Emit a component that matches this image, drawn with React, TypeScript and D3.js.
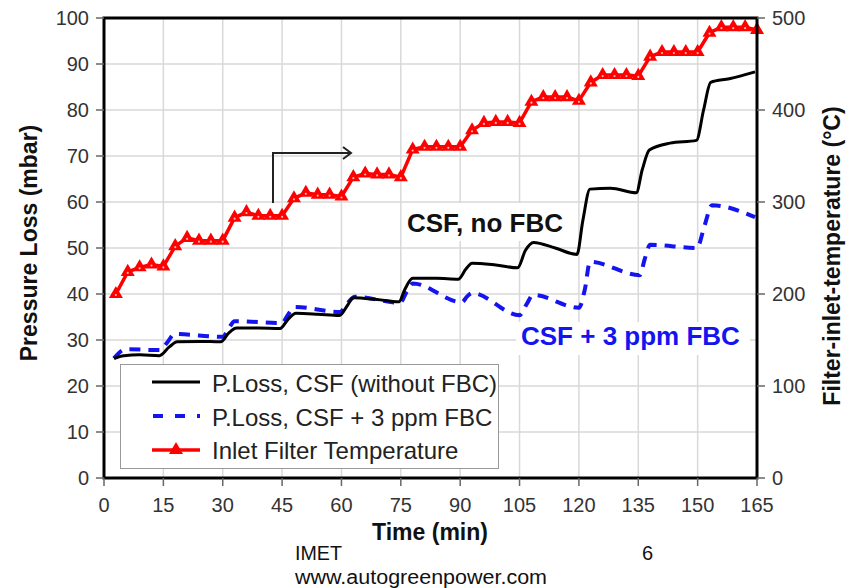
import React from 'react'
import * as d3 from 'd3'

// tick labels
const timeTicks = [0, 15, 30, 45, 60, 75, 90, 105, 120, 135, 150, 165]
const lossTicks = [0, 10, 20, 30, 40, 50, 60, 70, 80, 90, 100]
const tempTicks = [0, 100, 200, 300, 400, 500]

// inlet filter temperature (°C), one reading every 3 min
const tempTime = [
  3, 6, 9, 12, 15, 18, 21, 24, 27, 30, 33, 36, 39, 42, 45, 48, 51, 54, 57, 60,
  63, 66, 69, 72, 75, 78, 81, 84, 87, 90, 93, 96, 99, 102, 105, 108, 111, 114,
  117, 120, 123, 126, 129, 132, 135, 138, 141, 144, 147, 150, 153, 156, 159, 162, 165
]
const inletTemp = [
  200, 224, 229, 232, 230, 252, 261, 258, 258, 258, 283, 289, 285, 285, 285, 304,
  310, 308, 308, 306, 327, 331, 330, 330, 327, 357, 360, 360, 360, 360, 378, 386,
  387, 387, 386, 409, 414, 414, 414, 410, 430, 438, 438, 438, 437, 458, 463, 463,
  463, 463, 484, 490, 490, 490, 487
]

// pressure loss, CSF without FBC (mbar)
const csfTime = [
  2.5, 5, 9, 14, 16.5, 18.5, 24, 29.5, 31.5, 33.5, 39, 44.5, 46.5, 48.5, 54, 59.5,
  61.5, 63, 69, 74.5, 76, 78, 84, 89.5, 91.5, 93, 99, 104.5, 106.5, 108.5, 114,
  119.5, 121, 122.8, 128, 134.5, 136, 137.8, 143, 149.7, 151.5, 153.3, 158, 164.5
]
const csfLoss = [
  26.0, 26.6, 26.8, 26.6, 28.5, 29.6, 29.7, 29.6, 31.5, 32.6, 32.6, 32.5, 34.5, 35.8,
  35.6, 35.3, 37.5, 39.2, 38.8, 38.3, 41, 43.4, 43.4, 43.2, 45.5, 46.7, 46.3, 45.7,
  49.5, 51.2, 50.0, 48.6, 56, 62.8, 63.0, 62.0, 67, 71.3, 72.8, 73.4, 80, 86.0, 86.8, 88.3
]

// pressure loss, CSF + 3 ppm FBC (mbar)
const fbcTime = [
  2.5, 5.5, 14, 16, 17.8, 30, 31.5, 33, 45, 46.5, 48.3, 59.6, 61.5, 63.4, 74.8, 76.5,
  78, 90.4, 91.8, 93, 105, 106.8, 108.4, 120, 121.5, 122.8, 135.4, 136.6, 138, 149.8,
  151.8, 153.6, 164.5
]
const fbcLoss = [
  26.0, 28.0, 27.8, 29.5, 31.3, 30.7, 32.5, 34.1, 33.7, 35.5, 37.2, 36.1, 38, 39.4,
  38.1, 40.5, 42.3, 38.2, 39.5, 40.2, 35.4, 37.8, 39.8, 37.0, 41, 47.0, 44.1, 47.5,
  50.7, 50.0, 55, 59.3, 56.7
]

const legendItems = [
  'P.Loss, CSF (without FBC)',
  'P.Loss, CSF + 3 ppm FBC',
  'Inlet Filter Temperature'
]

const font = 'Liberation Sans, Arial, sans-serif'
const blue = '#1414f0'

const App = () => {
  const x = d3.scaleLinear().domain([0, 165]).range([104, 757])
  const yL = d3.scaleLinear().domain([0, 100]).range([478, 18])
  const yR = d3.scaleLinear().domain([0, 500]).range([478, 18])

  const smooth = d3
    .line<[number, number]>()
    .x(d => x(d[0]))
    .y(d => yL(d[1]))
    .curve(d3.curveMonotoneX)

  const tempLine = d3
    .line<[number, number]>()
    .x(d => x(d[0]))
    .y(d => yR(d[1]))

  const csf = csfTime.map((t, i) => [t, csfLoss[i]] as [number, number])
  const fbc = fbcTime.map((t, i) => [t, fbcLoss[i]] as [number, number])
  const temp = tempTime.map((t, i) => [t, inletTemp[i]] as [number, number])

  const tri = d3.symbol().type(d3.symbolTriangle).size(85)()

  const [x0, x1] = x.range()
  const [yb, yt] = yL.range()

  return (
    <svg
      width={854}
      height={588}
      style={{ position: 'absolute', left: 0, top: 0, background: '#fff' }}
    >
      {/* grid */}
      <g stroke='#d9d9d9' strokeWidth={1.5}>
        {timeTicks.slice(1, -1).map(t => (
          <line key={'gx' + t} x1={x(t)} x2={x(t)} y1={yt} y2={yb} />
        ))}
        {lossTicks.slice(1, -1).map(v => (
          <line key={'gy' + v} x1={x0} x2={x1} y1={yL(v)} y2={yL(v)} />
        ))}
      </g>

      {/* annotation backgrounds */}
      <rect x={402} y={203} width={168} height={38} fill='#fff' />
      <rect x={516} y={322} width={234} height={33} fill='#fff' />

      {/* series */}
      <path d={smooth(fbc) || ''} fill='none' stroke={blue} strokeWidth={4} strokeDasharray='11 8' />
      <path d={smooth(csf) || ''} fill='none' stroke='#000' strokeWidth={3} />
      <path d={tempLine(temp) || ''} fill='none' stroke='#ff0000' strokeWidth={3.5} />
      {temp.map(d => (
        <g key={'m' + d[0]} transform={`translate(${x(d[0])},${yR(d[1])})`}>
          <path d={tri || ''} fill='#ff0000' />
          <circle r={1.1} cy={1} fill='#ffb0b0' />
        </g>
      ))}

      {/* annotations */}
      <text x={407} y={232} fontFamily={font} fontWeight='bold' fontSize={26} fill='#111'>
        CSF, no FBC
      </text>
      <text x={521} y={345} fontFamily={font} fontWeight='bold' fontSize={26} fill={blue}>
        CSF + 3 ppm FBC
      </text>
      <g fill='none' stroke='#222' strokeWidth={2}>
        <path d='M273,203 V153 H351' />
        <path d='M343,147 L351,153 L343,159' />
      </g>

      {/* frame */}
      <rect x={x0} y={yt} width={x1 - x0} height={yb - yt} fill='none' stroke='#000' strokeWidth={3} />

      {/* axes ticks */}
      <g stroke='#666' strokeWidth={1.5}>
        {lossTicks.map(v => (
          <line key={'tl' + v} x1={x0 - 8} x2={x0} y1={yL(v)} y2={yL(v)} />
        ))}
        {tempTicks.map(v => (
          <line key={'tr' + v} x1={x1} x2={x1 + 8} y1={yR(v)} y2={yR(v)} />
        ))}
        {timeTicks.map(t => (
          <line key={'tb' + t} x1={x(t)} x2={x(t)} y1={yb} y2={yb + 8} />
        ))}
      </g>
      <g fontFamily={font} fontSize={20} fill='#333'>
        {lossTicks.map(v => (
          <text key={'ll' + v} x={x0 - 15} y={yL(v) + 7} textAnchor='end'>
            {v}
          </text>
        ))}
        {tempTicks.map(v => (
          <text key={'lr' + v} x={x1 + 15} y={yR(v) + 7}>
            {v}
          </text>
        ))}
        {timeTicks.map(t => (
          <text key={'lb' + t} x={x(t)} y={512} textAnchor='middle'>
            {t}
          </text>
        ))}
      </g>

      {/* axis titles */}
      <g fontFamily={font} fontWeight='bold' fontSize={23} fill='#111' textAnchor='middle'>
        <text transform='translate(37,243) rotate(-90)'>Pressure Loss (mbar)</text>
        <text transform='translate(840,256) rotate(-90)'>Filter-inlet-temperature (°C)</text>
        <text x={430} y={540}>Time (min)</text>
      </g>

      {/* legend */}
      <g>
        <rect x={120.5} y={364.5} width={378} height={104} fill='#fff' stroke='#999' strokeWidth={1} />
        <line x1={152} x2={200} y1={382} y2={382} stroke='#000' strokeWidth={3} />
        <line x1={153} x2={200} y1={416} y2={416} stroke={blue} strokeWidth={4} strokeDasharray='10 12' />
        <line x1={152} x2={200} y1={450} y2={450} stroke='#ff0000' strokeWidth={3.5} />
        <path d={tri || ''} fill='#ff0000' transform='translate(176,450)' />
        <g fontFamily={font} fontSize={24} fill='#222'>
          {legendItems.map((s, i) => (
            <text key={s} x={212} y={392 + i * 33.5}>
              {s}
            </text>
          ))}
        </g>
      </g>

      {/* footer */}
      <g fontFamily={font} fontSize={20} fill='#111'>
        <text x={295} y={560} textLength={47} lengthAdjust='spacingAndGlyphs'>
          IMET
        </text>
        <text x={642} y={560}>6</text>
        <text x={295} y={584} textLength={252} lengthAdjust='spacingAndGlyphs'>
          www.autogreenpower.com
        </text>
      </g>
    </svg>
  )
}

export default App
